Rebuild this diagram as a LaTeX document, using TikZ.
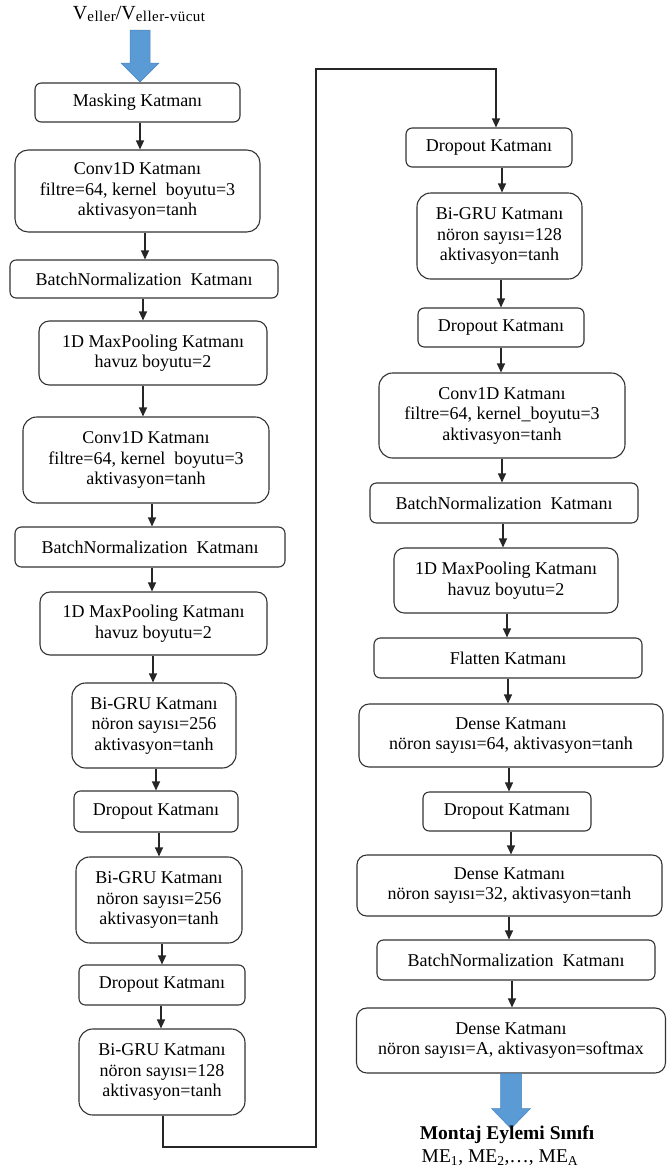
\documentclass[tikz,border=0pt]{standalone}
\usepackage{fontspec}
\setmainfont{Liberation Serif}
\usetikzlibrary{arrows.meta,calc}

\definecolor{edge}{HTML}{333333}
\definecolor{flowblue}{HTML}{5B9BD5}
\definecolor{flowblueedge}{HTML}{4A85BE}

\tikzset{
  layer/.style={draw=edge, line width=1.1pt, align=center, inner sep=0pt,
                font=\fontsize{18}{20.5}\selectfont},
  arr/.style={draw=black!85, line width=1.1pt, -{Triangle[length=9pt,width=8pt]}},
  bigarrow/.style={fill=flowblue, draw=flowblueedge, line width=0.5pt},
  caption/.style={inner sep=0pt, align=center},
}

% one layer box: name, centre x, centre y, width, height, text
\newcommand\lay[6]{\node[layer, minimum width=#4pt, minimum height=#5pt,
  rounded corners={0.16*#5*1pt}] (#1) at (#2,#3) {#6};}
% vertical flow arrow from one box to the next, optional x offset
\newcommand\flow[3][0]{\path ([xshift=#1pt]#2.south) coordinate (fl);
  \draw[arr] (fl) -- (fl |- #3.north);}
% lowered small index used in the input label
\newcommand\idx[1]{\raisebox{-2.5pt}{\fontsize{15}{16}\selectfont\addfontfeature{LetterSpace=3}#1}}

\begin{document}
\begin{tikzpicture}[x=1pt,y=-1pt]
\useasboundingbox (0,0) rectangle (667,1171);

% input label and arrow
\node[caption] (inlabel) at (139,14) {\fontsize{20}{21}\selectfont V\idx{eller}/V\idx{eller-vücut}};
\coordinate (inTop) at (140,30);
\draw[bigarrow] (inTop) ++(-10,0) -- ++(20,0) -- ++(0,33) -- ++(9,0) -- ++(-19,19) -- ++(-19,-19) -- ++(9,0) -- cycle;

% left column
\lay{mask}{137.5}{102.5}{205}{39}{Masking Katmanı}
\lay{convA}{137.5}{191}{245}{82}{Conv1D Katmanı\\filtre=64, kernel\ \ boyutu=3\\aktivasyon=tanh}
\lay{bnA}{144}{279}{268}{38}{BatchNormalization\ \ Katmanı}
\lay{mpA}{153}{353}{228}{64}{1D MaxPooling Katmanı\\havuz boyutu=2}
\lay{convB}{146}{460}{246}{86}{Conv1D Katmanı\\filtre=64, kernel\ \ boyutu=3\\aktivasyon=tanh}
\lay{bnB}{150}{547}{270}{40}{BatchNormalization\ \ Katmanı}
\lay{mpB}{153.5}{623.5}{227}{63}{1D MaxPooling Katmanı\\havuz boyutu=2}
\lay{gruA}{154}{725.5}{164}{85}{Bi-GRU Katmanı\\nöron sayısı=256\\aktivasyon=tanh}
\lay{doA}{156}{811.5}{164}{41}{Dropout Katmanı}
\lay{gruB}{159}{900}{166}{86}{Bi-GRU Katmanı\\nöron sayısı=256\\aktivasyon=tanh}
\lay{doB}{162}{985}{166}{40}{Dropout Katmanı}
\lay{gruC}{162}{1072}{166}{86}{Bi-GRU Katmanı\\nöron sayısı=128\\aktivasyon=tanh}

% right column
\lay{doC}{489}{147.5}{166}{39}{Dropout Katmanı}
\lay{gruD}{499.5}{236}{165}{86}{Bi-GRU Katmanı\\nöron sayısı=128\\aktivasyon=tanh}
\lay{doD}{501}{327.5}{166}{39}{Dropout Katmanı}
\lay{convC}{502}{415.5}{246}{85}{Conv1D Katmanı\\filtre=64, kernel\_boyutu=3\\aktivasyon=tanh}
\lay{bnC}{504}{503}{268}{40}{BatchNormalization\ \ Katmanı}
\lay{mpC}{506}{580.5}{224}{65}{1D MaxPooling Katmanı\\havuz boyutu=2}
\lay{flat}{508}{658}{268}{40}{Flatten Katmanı}
\lay{denA}{511}{735.5}{304}{63}{Dense Katmanı\\nöron sayısı=64, aktivasyon=tanh}
\lay{doE}{507}{811.5}{168}{39}{Dropout Katmanı}
\lay{denB}{509.5}{885.5}{305}{61}{Dense Katmanı\\nöron sayısı=32, aktivasyon=tanh}
\lay{bnD}{516}{960}{278}{40}{BatchNormalization\ \ Katmanı}
\lay{denC}{511}{1040.5}{309}{65}{Dense Katmanı\\nöron sayısı=A, aktivasyon=softmax}

% arrows, left column
\flow[2.5]{mask}{convA}
\flow[7.5]{convA}{bnA}
\flow[-1]{bnA}{mpA}
\flow[-10]{mpA}{convB}
\flow[6]{convB}{bnB}
\flow[2]{bnB}{mpB}
\flow[-0.5]{mpB}{gruA}
\flow[2]{gruA}{doA}
\flow[3]{doA}{gruB}
\flow[3]{gruB}{doB}
\flow[-1]{doB}{gruC}

% link from the bottom of the left column to the top of the right one
\coordinate (wireB) at (316,1147);
\coordinate (wireT) at (316,69);
\path ([xshift=1pt]gruC.south) coordinate (wireS);
\path ([xshift=7pt]doC.north) coordinate (wireE);
\draw[arr] (wireS) -- (wireS |- wireB) -- (wireB) -- (wireT) -- (wireE |- wireT) -- (wireE);

% arrows, right column
\flow[13]{doC}{gruD}
\flow[1.5]{gruD}{doD}
\flow[0]{doD}{convC}
\flow[0]{convC}{bnC}
\flow[-1]{bnC}{mpC}
\flow[1]{mpC}{flat}
\flow[0]{flat}{denA}
\flow[-2]{denA}{doE}
\flow[4]{doE}{denB}
\flow[-0.5]{denB}{bnD}
\flow[-4]{bnD}{denC}

% output arrow and class label
\path (denC.south) coordinate (outTop);
\draw[bigarrow] (outTop) ++(-10.5,0) -- ++(21,0) -- ++(0,35) -- ++(9,0) -- ++(-19.5,20) -- ++(-19.5,-20) -- ++(9,0) -- cycle;
\node[caption, font=\fontsize{19.5}{21}\selectfont\bfseries] (outclass) at (507,1135) {Montaj Eylemi Sınıfı};
\node[caption, font=\fontsize{19.5}{21}\selectfont] (outlist) at (500,1158) {ME\textsubscript{1}, ME\textsubscript{2},…, ME\textsubscript{A}};
\end{tikzpicture}
\end{document}
